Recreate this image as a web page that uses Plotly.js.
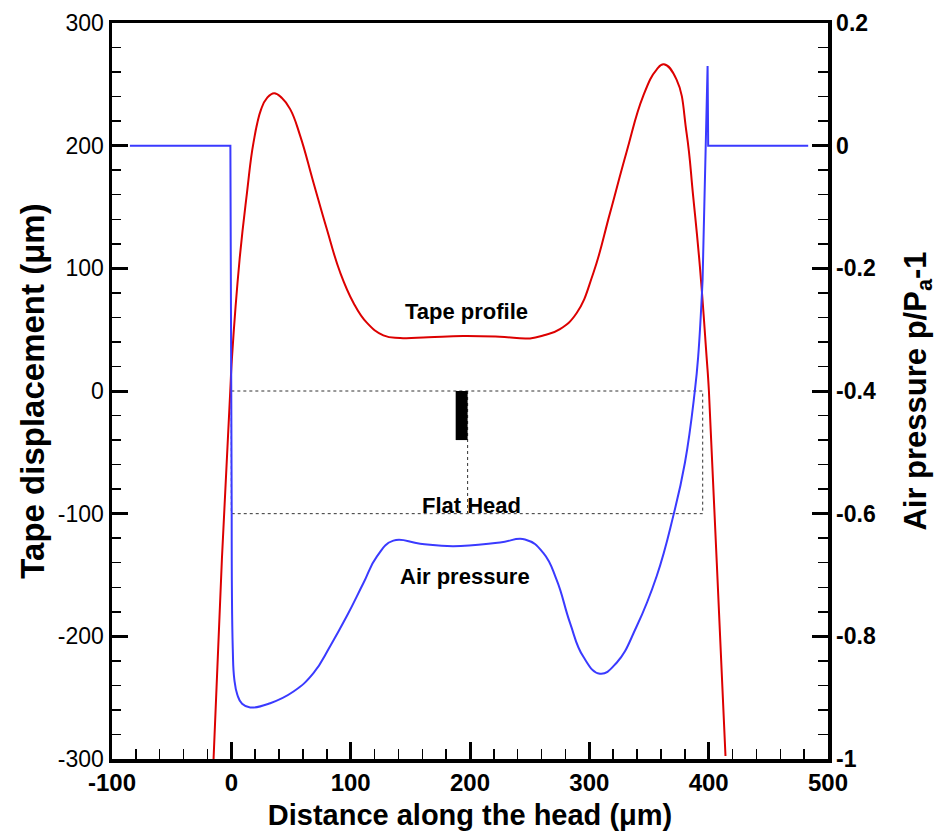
<!DOCTYPE html>
<html>
<head>
<meta charset="utf-8">
<script src="https://cdn.plot.ly/plotly-3.0.1.min.js"></script>
<style>html,body{margin:0;padding:0;background:#fff;}#chart{width:939px;height:840px;}</style>
</head>
<body>
<div id="chart"></div>
<script>
// Tape profile (left axis, micrometres)
const tapeX = [-14.9, -7.9, -0.9, 0.5, 6.9, 13.1, 18.6, 25.0, 29.8, 35.9, 42.4, 49.3, 57.7, 68.8, 80.0, 91.2, 102.3, 113.5, 127.4, 141.4, 165, 194.2, 225, 250.3, 262, 275.4, 289.4, 303.3, 317.3, 331.2, 345.1, 356.4, 362.5, 373.1, 381.5, 387.0, 392.6, 398.2, 400.2, 406.8, 414.1];
const tapeY = [-300, -137, 0, 26.6, 107, 161.5, 202.7, 229.8, 238.8, 242.8, 238.8, 229.8, 208, 170, 132, 96.6, 72, 55.7, 45.4, 43.2, 43.8, 44.8, 44.2, 42.9, 45.5, 50.5, 63.6, 96, 145, 194.9, 240.4, 262, 266.3, 253.8, 210.3, 158.9, 101.9, 28.6, 0, -140, -297.5];

// Air pressure (right axis, p/Pa - 1)
const presX = [-85, -0.8, 0.3, 1.2, 2.5, 5, 9, 15.8, 32.6, 52.1, 68.8, 82.8, 96.8, 110.7, 121.9, 135.8, 158.2, 186, 225.2, 246.1, 261.4, 272.6, 283.8, 294.9, 308.9, 322.9, 339.6, 356.4, 370.3, 380.1, 388.4, 391.2, 394.9, 399.1, 399.6, 483.4];
const presY = [0, 0, -0.6, -0.82, -0.87, -0.895, -0.91, -0.916, -0.909, -0.890, -0.860, -0.816, -0.767, -0.713, -0.670, -0.644, -0.649, -0.653, -0.647, -0.642, -0.664, -0.708, -0.778, -0.833, -0.861, -0.843, -0.784, -0.702, -0.604, -0.517, -0.400, -0.344, -0.219, 0.130, 0, 0];

// Flat head outline and head marker
const headX = [0, 395, 395, 0, 0];
const headY = [0, 0, -100, -100, 0];
const headMidX = [198, 198];
const headMidY = [0, -100];
const blockX = [188, 198, 198, 188, 188];
const blockY = [0, 0, -40, -40, 0];

// Ticks
const xTickVals = [-100, 0, 100, 200, 300, 400, 500];
const xTickText = ['-100', '0', '100', '200', '300', '400', '500'];
const yTickVals = [-300, -200, -100, 0, 100, 200, 300];
const yTickText = ['-300', '-200', '-100', '0', '100', '200', '300'];
const y2TickVals = [-1, -0.8, -0.6, -0.4, -0.2, 0, 0.2];
const y2TickText = ['-1', '-0.8', '-0.6', '-0.4', '-0.2', '0', '0.2'];

// Labels
const labelText = ['Tape profile', 'Flat Head', 'Air pressure'];
const labelX = [197, 201, 196];
const labelY = [65, -93, -151];

const FONT = 'Liberation Sans, Arial, sans-serif';
const RED = '#dc0000';
const BLUE = '#3a3aff';

// split air pressure into the sharp (straight) parts and the smooth middle part
const nP = presX.length;
const seg = (a, b) => ({x: presX.slice(a, b), y: presY.slice(a, b)});
const pLeft = seg(0, 3);
const pMid = seg(2, 33);
const pRight = seg(32, nP);

const blueLine = (s, shape) => ({x: s.x, y: s.y, yaxis: 'y2', mode: 'lines',
  line: {color: BLUE, width: 2, shape: shape, smoothing: 1.3}, hoverinfo: 'skip'});

const traces = [
  {x: headX, y: headY, mode: 'lines', line: {color: '#333', width: 1, dash: 'dot'}, hoverinfo: 'skip'},
  {x: headMidX, y: headMidY, mode: 'lines', line: {color: '#333', width: 1, dash: 'dot'}, hoverinfo: 'skip'},
  {x: blockX, y: blockY, mode: 'lines', fill: 'toself', fillcolor: '#000', line: {color: '#000', width: 0}, hoverinfo: 'skip'},
  {x: tapeX, y: tapeY, mode: 'lines', line: {color: RED, width: 2, shape: 'spline', smoothing: 1.3}, hoverinfo: 'skip'},
  blueLine(pLeft, 'linear'),
  blueLine(pMid, 'spline'),
  blueLine(pRight, 'linear')
];

const annotations = labelText.map((t, i) => ({
  text: t, x: labelX[i], y: labelY[i], xref: 'x', yref: 'y', showarrow: false,
  font: {family: FONT, size: 22, color: '#000', weight: 'bold'}
}));

const layout = {
  width: 939, height: 840,
  margin: {l: 112, r: 111, t: 23, b: 81},
  paper_bgcolor: '#fff', plot_bgcolor: '#fff',
  showlegend: false,
  font: {family: FONT, color: '#000'},
  xaxis: {
    range: [-100, 500], tickmode: 'array', tickvals: xTickVals, ticktext: xTickText,
    showline: true, linecolor: '#000', linewidth: 3.5, mirror: true,
    ticks: 'inside', ticklen: 17, tickwidth: 3, tickcolor: '#000',
    minor: {tickmode: 'linear', tick0: 0, dtick: 20, ticks: 'inside', ticklen: 10, tickwidth: 1.5, tickcolor: '#000'},
    showgrid: false, zeroline: false,
    tickfont: {family: FONT, size: 24, weight: 'bold'},
    title: {text: 'Distance along the head (μm)', font: {family: FONT, size: 29, weight: 'bold'}, standoff: 10}
  },
  yaxis: {
    range: [-300, 300], tickmode: 'array', tickvals: yTickVals, ticktext: yTickText,
    showline: true, linecolor: '#000', linewidth: 3.5,
    ticks: 'inside', ticklen: 16, tickwidth: 3, tickcolor: '#000',
    minor: {tickmode: 'linear', tick0: 0, dtick: 20, ticks: 'inside', ticklen: 9, tickwidth: 1.5, tickcolor: '#000'},
    showgrid: false, zeroline: false,
    tickfont: {family: FONT, size: 23},
    title: {text: 'Tape displacement (μm)', font: {family: FONT, size: 33, weight: 'bold'}, standoff: 4}
  },
  yaxis2: {
    overlaying: 'y', side: 'right',
    range: [-1, 0.2], tickmode: 'array', tickvals: y2TickVals, ticktext: y2TickText,
    showline: true, linecolor: '#000', linewidth: 3.5,
    ticks: 'inside', ticklen: 16, tickwidth: 3, tickcolor: '#000',
    minor: {tickmode: 'linear', tick0: 0, dtick: 0.04, ticks: 'inside', ticklen: 10, tickwidth: 1.5, tickcolor: '#000'},
    showgrid: false, zeroline: false,
    tickfont: {family: FONT, size: 23, weight: 'bold'},
    title: {text: 'Air pressure p/P<sub>a</sub>-1', font: {family: FONT, size: 31, weight: 'bold'}, standoff: 30}
  },
  annotations: annotations
};

Plotly.newPlot('chart', traces, layout, {staticPlot: true, displayModeBar: false});
</script>
</body>
</html>
